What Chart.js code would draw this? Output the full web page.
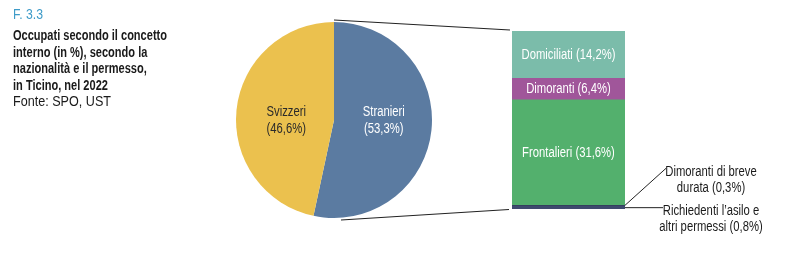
<!DOCTYPE html>
<html>
<head>
<meta charset="utf-8">
<script src="https://cdn.jsdelivr.net/npm/chart.js@4"></script>
<style>
  body { margin: 0; background: #fff; }
  #wrap { position: relative; width: 800px; height: 268px; overflow: hidden; }
  canvas { position: absolute; left: 0; top: 0; }
  #title {
    position: absolute; left: 13px; top: 6px;
    font-family: 'Liberation Sans', Arial, sans-serif;
    color: #1a1a1a; font-size: 14px;
  }
  #title > div { display: inline-block; white-space: nowrap; transform-origin: 0 0; }
  #title .fig { color: #3e9bc8; line-height: 17px; font-size: 14px; }
  #title .t { font-weight: bold; line-height: 16.5px; margin-top: 4px; font-size: 14.5px; }
  #title .src { line-height: 14px; font-size: 14px; margin-top: -2px; }
</style>
</head>
<body>
<div id="wrap">
  <canvas id="bar" width="800" height="268"></canvas>
  <canvas id="pie" width="800" height="268"></canvas>
  <div id="title">
    <div class="fig">F. 3.3</div><br>
    <div class="t">Occupati secondo il concetto<br>interno (in %), secondo la<br>nazionalità e il permesso,<br>in Ticino, nel 2022</div><br>
    <div class="src">Fonte: SPO, UST</div>
  </div>
</div>
<script>
// Pie: nationality
const pieLabels = ['Stranieri', 'Svizzeri'];
const pieValues = [53.3, 46.6];
const pieColors = ['#5b7ba1', '#ebc14e'];
const pieTextColors = ['#ffffff', '#2a2a2a'];

// Stacked bar: foreigners by permit (bottom to top)
const barLabels = ['Richiedenti l\'asilo e altri permessi', 'Dimoranti di breve durata', 'Frontalieri', 'Dimoranti', 'Domiciliati'];
const barValues = [0.8, 0.3, 31.6, 6.4, 14.2];
const barColors = ['#3e4a6e', '#34405f', '#53b06d', '#a0569a', '#7bbcaa'];

const FONT = "14px 'Liberation Sans', Arial, sans-serif";
const fmt = v => '(' + v.toFixed(1).replace('.', ',') + '%)';

// the original uses a condensed face; squeeze the regular one to match
function condense(el, target) {
  const w = el.getBoundingClientRect().width;
  el.style.transform = 'scaleX(' + (target / w) + ')';
}
condense(document.querySelector('#title .t'), 154);
condense(document.querySelector('#title .fig'), 30);
condense(document.querySelector('#title .src'), 98);

let sx = 0.8;
function narrowText(ctx, text, x, y) {
  ctx.save();
  ctx.translate(x, y);
  ctx.scale(sx, 1);
  ctx.fillText(text, 0, 0);
  ctx.restore();
}

// Labels inside the pie slices
const pieLabelPlugin = {
  id: 'pieLabels',
  afterDatasetsDraw(chart) {
    const ctx = chart.ctx;
    const meta = chart.getDatasetMeta(0);
    ctx.save();
    ctx.font = FONT;
    sx = 94 / ctx.measureText('Domiciliati (14,2%)').width;
    ctx.textAlign = 'center';
    ctx.textBaseline = 'middle';
    meta.data.forEach((arc, i) => {
      const p = arc.tooltipPosition();
      ctx.fillStyle = pieTextColors[i];
      narrowText(ctx, pieLabels[i], p.x + 1, arc.y - 8);
      narrowText(ctx, fmt(pieValues[i]), p.x + 1, arc.y + 9);
    });
    ctx.restore();
  }
};

const pieChart = new Chart(document.getElementById('pie'), {
  type: 'pie',
  data: {
    labels: pieLabels,
    datasets: [{ data: pieValues, backgroundColor: pieColors, borderWidth: 0 }]
  },
  options: {
    responsive: false,
    animation: false,
    layout: { padding: { left: 236, right: 368, top: 22, bottom: 50 } },
    plugins: { legend: { display: false }, tooltip: { enabled: false } }
  },
  plugins: [pieLabelPlugin]
});

// Connector lines, segment labels and external annotations
const barLabelPlugin = {
  id: 'barLabels',
  afterDatasetsDraw(chart) {
    const ctx = chart.ctx;
    const area = chart.chartArea;
    const seg = i => chart.getDatasetMeta(i).data[0];

    ctx.save();
    ctx.font = FONT;
    sx = 94 / ctx.measureText('Domiciliati (14,2%)').width;

    // lines from the pie to the bar
    const arc = pieChart.getDatasetMeta(0).data[0];
    ctx.strokeStyle = '#222';
    ctx.lineWidth = 1.2;
    ctx.beginPath();
    ctx.moveTo(arc.x, arc.y - arc.outerRadius - 2);
    ctx.lineTo(area.left - 2, area.top - 1);
    ctx.moveTo(arc.x + 7, arc.y + arc.outerRadius + 2);
    ctx.lineTo(area.left - 3, area.bottom + 0.5);
    ctx.stroke();

    // labels inside the big segments
    ctx.textAlign = 'center';
    ctx.textBaseline = 'middle';
    ctx.fillStyle = '#ffffff';
    [2, 3, 4].forEach(i => {
      const b = seg(i);
      narrowText(ctx, barLabels[i] + ' ' + fmt(barValues[i]), b.x, (b.y + b.base) / 2 + 0.5);
    });

    // external labels for the thin segments
    ctx.fillStyle = '#1a1a1a';
    ctx.lineWidth = 1;
    const tx = area.right + 86;
    const brief = seg(1);
    ctx.beginPath();
    ctx.moveTo(area.right, brief.y);
    ctx.lineTo(area.right + 41, brief.y - 37);
    ctx.stroke();
    narrowText(ctx, 'Dimoranti di breve', tx, brief.y - 33);
    narrowText(ctx, 'durata ' + fmt(barValues[1]), tx, brief.y - 17);

    const asyl = seg(0);
    const ay = (asyl.y + asyl.base) / 2;
    ctx.beginPath();
    ctx.moveTo(area.right, ay);
    ctx.lineTo(area.right + 38, ay);
    ctx.stroke();
    narrowText(ctx, 'Richiedenti l\u2019asilo e', tx, ay + 3);
    narrowText(ctx, 'altri permessi ' + fmt(barValues[0]), tx, ay + 19);
    ctx.restore();
  }
};

const total = barValues.reduce((a, b) => a + b, 0);

new Chart(document.getElementById('bar'), {
  type: 'bar',
  data: {
    labels: ['Stranieri'],
    datasets: barLabels.map((label, i) => ({
      label,
      data: [barValues[i]],
      backgroundColor: barColors[i],
      borderWidth: 0,
      barPercentage: 1,
      categoryPercentage: 1
    }))
  },
  options: {
    responsive: false,
    animation: false,
    layout: { padding: { left: 512, right: 175, top: 31, bottom: 59 } },
    scales: {
      x: { stacked: true, display: false },
      y: { stacked: true, display: false, min: 0, max: total }
    },
    plugins: { legend: { display: false }, tooltip: { enabled: false } }
  },
  plugins: [barLabelPlugin]
});
</script>
</body>
</html>
